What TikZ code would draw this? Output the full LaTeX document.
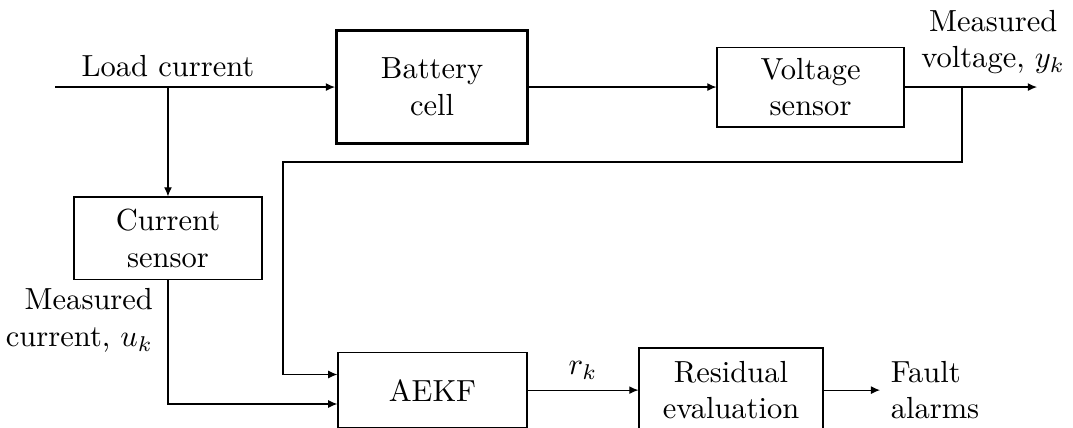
\documentclass[tikz,border=0pt]{standalone}
\usepackage{amsmath}
\usetikzlibrary{arrows.meta,positioning,calc}

\tikzset{
  blk/.style={draw=black,minimum width=2.15cm,minimum height=0.95cm,align=center,inner sep=3.3pt},
  lbl/.style={align=center,inner sep=3.3pt},
  sig/.style={-{Latex[length=3pt,width=2.6pt]}}
}

\begin{document}
\begin{tikzpicture}
\useasboundingbox (0,0) rectangle (12.36,4.92);
\node[blk,line width=1pt,minimum width=2.2cm,minimum height=1.31cm] (blk_cell) at (4.977,3.917) {Battery\\cell};
\node[blk,minimum width=2.154cm,minimum height=0.92cm] (blk_vs) at (9.337,3.917) {Voltage\\sensor};
\node[blk,minimum width=2.166cm,minimum height=0.945cm] (blk_cs) at (1.935,2.177) {Current\\sensor};
\node[blk,minimum width=2.177cm,minimum height=0.875cm] (blk_aekf) at (4.982,0.426) {AEKF};
\node[blk,minimum width=2.12cm,minimum height=0.968cm] (blk_res) at (8.421,0.426) {Residual\\evaluation};
% signal end points
\coordinate (io_load) at (0.634,3.917);
\coordinate (io_tap) at (blk_cs.north |- io_load);
\coordinate (io_vout) at (11.946,3.917);
\coordinate (io_vtap) at (11.082,3.917);
\coordinate (io_fb) at (3.260,3.053);
\coordinate (io_fault) at (10.138,0.426);
% labels
\node[lbl,above] (lb_load) at (io_tap) {Load current};
\node[lbl] (lb_vout) at (11.44,4.435) {Measured\\voltage, $y_k$};
\node[lbl,anchor=east,align=right] (lb_cur) at ($(blk_cs.south)+(-0.05,-0.47)$) {Measured\\current, $u_k$};
\node[lbl,right,align=left] (lb_fault) at (io_fault) {Fault\\alarms};
% connectors
\draw[sig] (io_load) -- (blk_cell.west);
\draw[sig] (io_tap) -- (blk_cs.north);
\draw[sig] (blk_cell.east) -- (blk_vs.west);
\draw[sig] (blk_vs.east) -- (io_vout);
\draw[sig] (io_vtap) |- (io_fb) |- ([yshift=0.18cm]blk_aekf.west);
\draw[sig] (blk_cs.south) |- ([yshift=-0.16cm]blk_aekf.west);
\draw[sig] (blk_aekf.east) -- node[lbl,above] (lb_res) {$r_k$} (blk_res.west);
\draw[sig] (blk_res.east) -- (io_fault);
\end{tikzpicture}
\end{document}
